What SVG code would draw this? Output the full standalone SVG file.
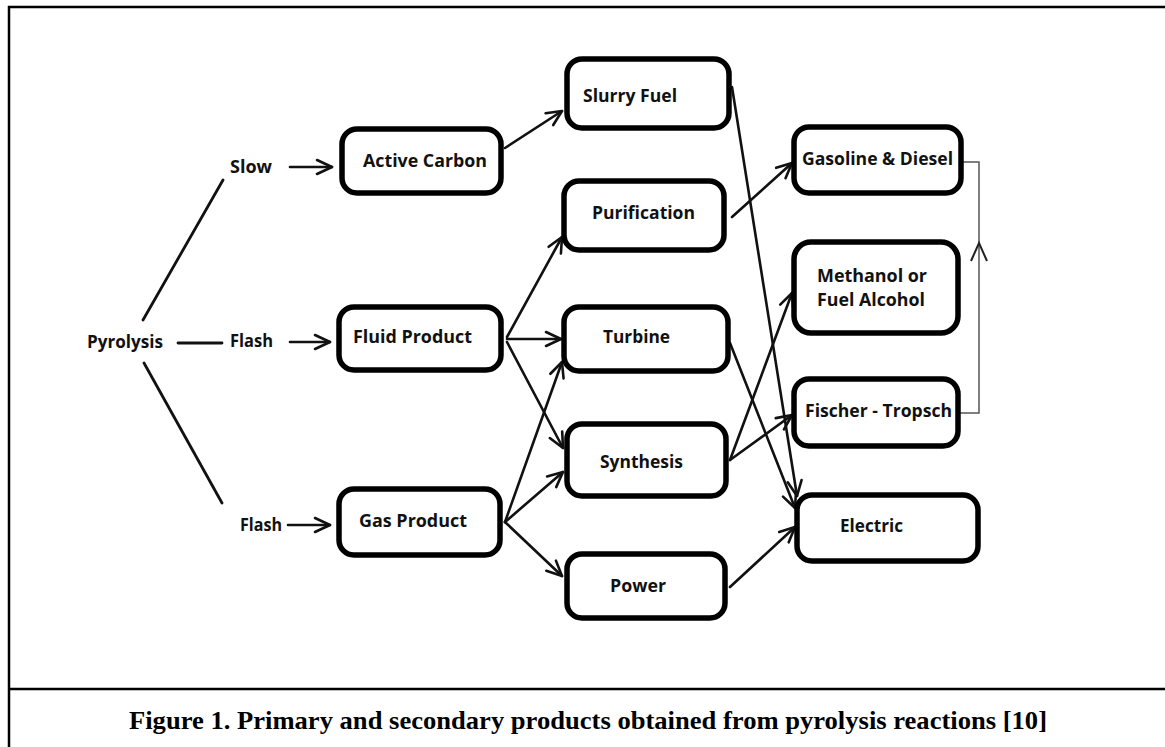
<svg xmlns="http://www.w3.org/2000/svg" width="1165" height="747" viewBox="0 0 1165 747">
<style>
.frame{stroke:#000;stroke-width:2.5;fill:none}
.box{fill:#fff;stroke:#000;stroke-width:5.5}
.lbl{font-family:"Open Sans","Liberation Sans",sans-serif;font-weight:bold;font-size:18px;fill:#111}
.ln{stroke:#111;stroke-width:2.8;fill:none;stroke-linecap:round}
.arr{stroke:#111;stroke-width:2.6;fill:none;stroke-linecap:round;marker-end:url(#ah)}
.thin{stroke:#555;stroke-width:1.5;fill:none}
.cap{font-family:"Liberation Serif","Times New Roman",serif;font-weight:bold;font-size:25px;fill:#000}
</style>
<defs>
<marker id="ah" markerUnits="userSpaceOnUse" markerWidth="24" markerHeight="24" viewBox="-20 -12 24 24" refX="0" refY="0" orient="auto">
<path d="M-15,-7 L0,0 L-15,7" fill="none" stroke="#111" stroke-width="2.6" stroke-linecap="round" stroke-linejoin="round"/>
</marker>
</defs>
<rect width="1165" height="747" fill="#fff"/>
<g id="frame">
<path class="frame" d="M1165,7 H9 V747"/>
<path class="frame" d="M9,689 H1165"/>
</g>
<g id="connectors">
<path class="ln" d="M178,343 L222,343"/>
<path class="ln" d="M143,320 L223,180"/>
<path class="ln" d="M144,363 L222,503"/>
<path class="arr" d="M290,167 L332,167"/>
<path class="arr" d="M290,342 L330,342"/>
<path class="arr" d="M288,525 L330,525"/>
<path class="arr" d="M505,148 L562,111"/>
<path class="arr" d="M507,337 L562,237"/>
<path class="arr" d="M507,339 L561,339"/>
<path class="arr" d="M507,342 L563,448"/>
<path class="arr" d="M505,522 L562,362"/>
<path class="arr" d="M505,522 L563,472"/>
<path class="arr" d="M505,522 L562,576"/>
<path class="arr" d="M732,87 L797,496"/>
<path class="arr" d="M732,217 L792,163"/>
<path class="arr" d="M730,343 L795,508"/>
<path class="arr" d="M730,460 L792,293"/>
<path class="arr" d="M730,460 L792,415"/>
<path class="arr" d="M730,587 L795,527"/>
<path class="thin" d="M963,162 H979 V413 H960"/>
<path d="M971,261 L979,243 L987,261" fill="none" stroke="#222" stroke-width="2"/>
</g>
<g id="pyrolysis"><text class="lbl" x="87" y="348" textLength="76" lengthAdjust="spacingAndGlyphs">Pyrolysis</text></g>
<g id="slow"><text class="lbl" x="230" y="173" textLength="42" lengthAdjust="spacingAndGlyphs">Slow</text></g>
<g id="flash1"><text class="lbl" x="230" y="347" textLength="43" lengthAdjust="spacingAndGlyphs">Flash</text></g>
<g id="flash2"><text class="lbl" x="240" y="531" textLength="42" lengthAdjust="spacingAndGlyphs">Flash</text></g>
<g id="active-carbon"><rect class="box" x="342" y="129" width="159" height="64" rx="15"/><text class="lbl" x="363" y="167" textLength="124" lengthAdjust="spacingAndGlyphs">Active Carbon</text></g>
<g id="fluid-product"><rect class="box" x="339" y="307" width="162" height="63" rx="15"/><text class="lbl" x="353" y="343" textLength="119" lengthAdjust="spacingAndGlyphs">Fluid Product</text></g>
<g id="gas-product"><rect class="box" x="339" y="489" width="161" height="66" rx="15"/><text class="lbl" x="359" y="527" textLength="108" lengthAdjust="spacingAndGlyphs">Gas Product</text></g>
<g id="slurry-fuel"><rect class="box" x="567" y="59" width="162" height="69" rx="15"/><text class="lbl" x="583" y="102" textLength="94" lengthAdjust="spacingAndGlyphs">Slurry Fuel</text></g>
<g id="purification"><rect class="box" x="564" y="181" width="160" height="69" rx="15"/><text class="lbl" x="592" y="219" textLength="103" lengthAdjust="spacingAndGlyphs">Purification</text></g>
<g id="turbine"><rect class="box" x="564" y="307" width="164" height="64" rx="15"/><text class="lbl" x="603" y="343" textLength="67" lengthAdjust="spacingAndGlyphs">Turbine</text></g>
<g id="synthesis"><rect class="box" x="567" y="424" width="159" height="72" rx="15"/><text class="lbl" x="600" y="468" textLength="83" lengthAdjust="spacingAndGlyphs">Synthesis</text></g>
<g id="power"><rect class="box" x="567" y="554" width="158" height="64" rx="15"/><text class="lbl" x="610" y="592" textLength="56" lengthAdjust="spacingAndGlyphs">Power</text></g>
<g id="gasoline-diesel"><rect class="box" x="794" y="127" width="167" height="66" rx="15"/><text class="lbl" x="802" y="165" textLength="151" lengthAdjust="spacingAndGlyphs">Gasoline &amp; Diesel</text></g>
<g id="methanol"><rect class="box" x="794" y="242" width="164" height="91" rx="17"/><text class="lbl" x="817" y="282" textLength="110" lengthAdjust="spacingAndGlyphs">Methanol or</text><text class="lbl" x="817" y="306" textLength="108" lengthAdjust="spacingAndGlyphs">Fuel Alcohol</text></g>
<g id="fischer-tropsch"><rect class="box" x="794" y="379" width="164" height="67" rx="15"/><text class="lbl" x="805" y="417" textLength="147" lengthAdjust="spacingAndGlyphs">Fischer - Tropsch</text></g>
<g id="electric"><rect class="box" x="797" y="495" width="181" height="66" rx="15"/><text class="lbl" x="840" y="532" textLength="63" lengthAdjust="spacingAndGlyphs">Electric</text></g>
<g id="caption"><text class="cap" x="129" y="729" textLength="918" lengthAdjust="spacingAndGlyphs">Figure 1. Primary and secondary products obtained from pyrolysis reactions [10]</text></g>
</svg>
